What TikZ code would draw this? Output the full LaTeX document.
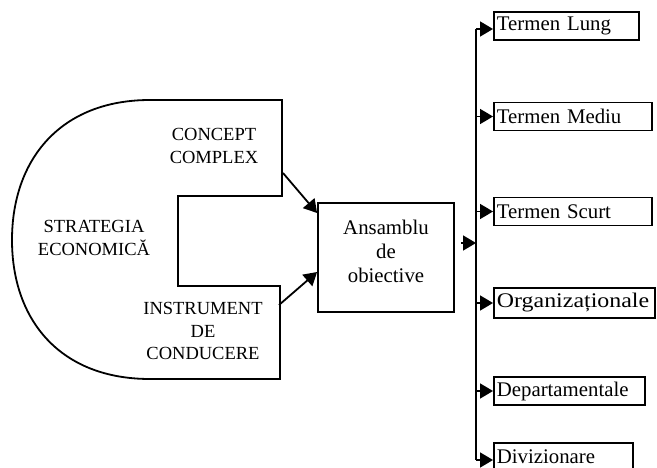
\documentclass[tikz,border=0pt]{standalone}
\usepackage{fontspec}
\usepackage{graphicx}
\setmainfont{Liberation Serif}
\usetikzlibrary{arrows.meta}
\begin{document}
\begin{tikzpicture}[x=1pt,y=-1pt,line width=1.8pt,
  arr/.style={-{Triangle[length=13pt,width=15pt]}},
  caps/.style={font=\fontsize{18.5}{22.5}\selectfont, align=center, inner sep=0pt},
  mainbox/.style={draw, minimum width=136pt, minimum height=109pt, inner sep=0pt},
  boxtext/.style={font=\fontsize{20.8}{24}\selectfont, align=center, inner sep=0pt},
  goal/.style={draw, anchor=west, font=\fontsize{20.8}{24}\selectfont,
    inner xsep=3pt, inner ysep=0pt, minimum height=28pt, align=left}]
\useasboundingbox (0,0) rectangle (657,468);

% left outline: strategy as concept and as instrument
\draw (150,100) -- (282,100) -- (282,196) -- (178,196) -- (178,286)
  -- (280,286) -- (280,379) -- (150,379)
  .. controls (60,379) and (12,320) .. (12,240)
  .. controls (12,160) and (60,100) .. (150,100) -- cycle;

\node[caps] (concept) at (214,146) {CONCEPT\\COMPLEX};
\node[caps] (strat) at (94,238) {STRATEGIA\\ECONOMICĂ};
\node[caps] (instr) at (203,331) {INSTRUMENT\\DE\\CONDUCERE};

% central box and its label
\node[mainbox] (ans) at (386,257.5) {};
\node[boxtext] (anstext) at (386,251) {Ansamblu\\de\\obiective};

\coordinate (c1) at (283,173);
\coordinate (c2) at (279,305);
\draw[arr] (c1) -- (ans.west |- 0,213);
\draw[arr] (c2) -- (ans.west |- 0,272);

% goal boxes
\node[goal, text width=139pt] (t1) at (493,26)  {Termen Lung};
\node[goal, text width=152pt] (t2) at (493,116.5) {Termen Mediu};
\node[goal, text width=152pt] (t3) at (493,211.5) {Termen Scurt};
\node[goal, text width=155pt, minimum height=30pt] (t4) at (493,303)
  {\scalebox{1.15}[1]{Organizaționale}};
\node[goal, text width=145pt] (t5) at (493,391) {Departamentale};
\node[goal, text width=133pt] (t6) at (493,457) {Divizionare};

% trunk
\coordinate (ttop) at (476,29);
\coordinate (tbot) at (476,460);
\coordinate (tmid) at (476,243);
\coordinate (outS) at (461,243);
\draw (ttop) -- (tbot);
\draw[arr] (outS) -- (tmid);

\draw[arr] (ttop) -- (t1.west |- ttop);
\draw[arr] (ttop |- t2.west) -- (t2.west);
\draw[arr] (ttop |- t3.west) -- (t3.west);
\draw[arr] (ttop |- t4.west) -- (t4.west);
\draw[arr] (ttop |- t5.west) -- (t5.west);
\draw[arr] (tbot) -- (t6.west |- tbot);
\end{tikzpicture}
\end{document}
